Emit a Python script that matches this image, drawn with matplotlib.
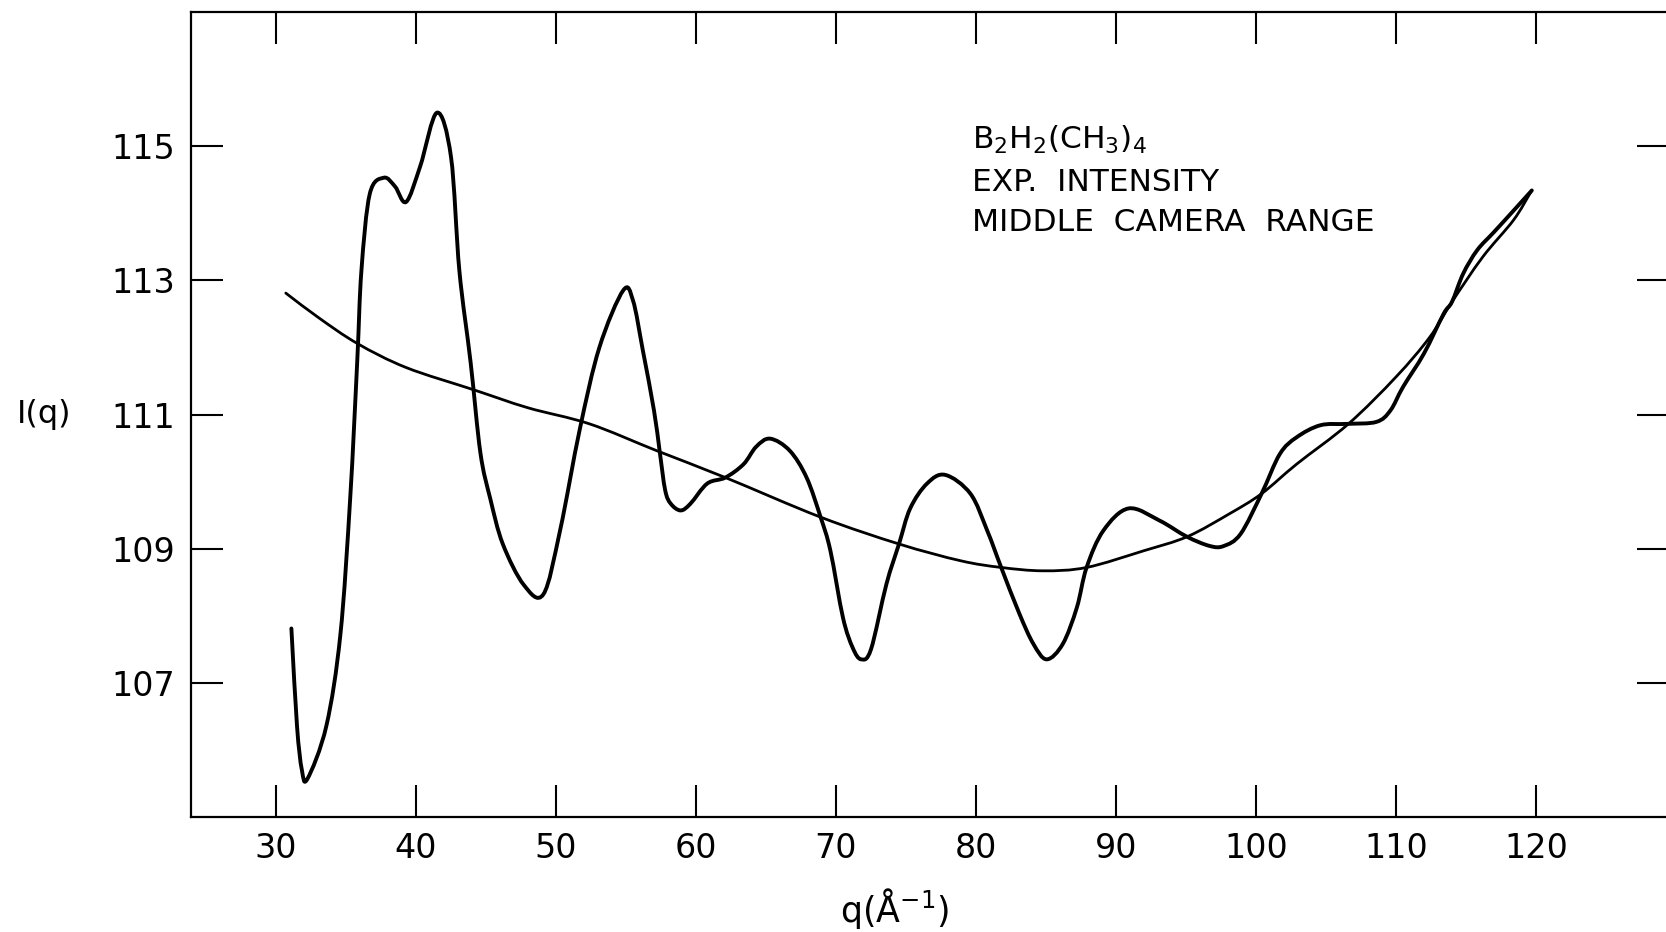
import numpy as np
import matplotlib
matplotlib.use("Agg")
from matplotlib import pyplot as plt
from matplotlib.path import Path
from matplotlib.patches import PathPatch

# Valeurs
# Courbe d'intensite experimentale (oscillante)
q_exp = [31.1, 31.5, 31.85, 32.25, 33.6, 34.6, 35.3, 35.8, 36.1, 36.7, 37.7, 38.5,
         39.3, 40.3, 41.5, 42.5, 43.1, 43.9, 44.6, 45.3, 46.2, 47.7, 49.1, 50.3,
         51.7, 53.1, 54.8, 55.5, 56.2, 57.0, 57.4, 57.8, 58.2, 58.9, 59.6, 60.8,
         62.1, 63.4, 64.3, 65.3, 66.7, 67.9, 68.9, 69.6, 70.5, 71.2, 71.8, 72.5,
         73.6, 74.5, 75.3, 76.5, 77.8, 79.6, 80.8, 81.8, 83.1, 84.1, 85.05, 86.2,
         87.2, 87.9, 89.1, 90.9, 93.1, 95.05, 96.7, 97.7, 98.9, 100.4, 101.7, 102.9,
         104.6, 106.5, 108.6, 109.6, 110.5, 112.0, 113.4, 114.0, 114.8, 115.8, 117.0,
         118.4, 119.7]
i_exp = [107.81, 106.36, 105.70, 105.57, 106.36, 107.72, 109.75, 111.78, 113.14, 114.29,
         114.53, 114.40, 114.17, 114.70, 115.50, 114.84, 113.14, 111.78, 110.43, 109.75,
         109.07, 108.46, 108.32, 109.28, 110.78, 112.00, 112.85, 112.70, 111.96, 111.06,
         110.46, 109.87, 109.67, 109.57, 109.67, 109.97, 110.06, 110.26, 110.52, 110.64,
         110.46, 110.06, 109.47, 108.97, 107.97, 107.52, 107.35, 107.50, 108.47, 109.07,
         109.60, 109.97, 110.10, 109.82, 109.27, 108.72, 108.03, 107.58, 107.35, 107.58,
         108.12, 108.72, 109.27, 109.60, 109.42, 109.18, 109.04, 109.04, 109.22, 109.82,
         110.41, 110.66, 110.84, 110.86, 110.89, 111.06, 111.41, 111.91, 112.50, 112.68,
         113.10, 113.45, 113.72, 114.04, 114.34]

# Fond lisse
q_bg = [30.7, 33.0, 35.8, 39.3, 44.1, 48.0, 52.4, 57.2, 62.1, 68.9, 74.5, 78.9,
        81.8, 84.8, 87.9, 92.0, 95.1, 98.1, 100.4, 102.9, 106.6, 110.0, 112.4, 114.0,
        116.2, 118.4, 119.7]
i_bg = [112.81, 112.45, 112.06, 111.70, 111.37, 111.10, 110.86, 110.46, 110.06, 109.47,
        109.07, 108.82, 108.72, 108.67, 108.72, 108.97, 109.18, 109.52, 109.82, 110.26,
        110.86, 111.56, 112.15, 112.68, 113.35, 113.90, 114.34]

x_ticks = [30, 40, 50, 60, 70, 80, 90, 100, 110, 120]
y_ticks = [107, 109, 111, 113, 115]
notes = [r"B$_2$H$_2$(CH$_3$)$_4$", "EXP.  INTENSITY", "MIDDLE  CAMERA  RANGE"]


def courbe(xs, ys):
    # trace lisse qui passe par les points lus (Catmull-Rom -> Bezier)
    p = np.column_stack([xs, ys])
    p = np.vstack([2 * p[0] - p[1], p, 2 * p[-1] - p[-2]])
    verts = [p[1]]
    codes = [Path.MOVETO]
    for i in range(1, len(p) - 2):
        c1 = p[i] + (p[i + 1] - p[i - 1]) / 6
        c2 = p[i + 1] - (p[i + 2] - p[i]) / 6
        verts += [c1, c2, p[i + 1]]
        codes += [Path.CURVE4] * 3
    return Path(verts, codes)


plt.rcParams["font.family"] = ["DejaVu Sans"]
plt.rcParams["mathtext.fontset"] = "dejavusans"

fig = plt.figure(figsize=(16.66, 9.32), dpi=100)
# l'axe droit sort de l'image, comme sur l'original
ax = fig.add_axes([0.1144, 0.1234, 0.8874, 0.8637])

ax.add_patch(PathPatch(courbe(q_bg, i_bg), facecolor="none", edgecolor="black",
                       lw=2.0, capstyle="round", joinstyle="round"))
ax.add_patch(PathPatch(courbe(q_exp, i_exp), facecolor="none", edgecolor="black",
                       lw=2.8, capstyle="round", joinstyle="round"))

ax.set_xlim(23.9, 129.5)
ax.set_ylim(105, 117)
ax.set_xticks(x_ticks)
ax.set_yticks(y_ticks)
ax.tick_params(direction="in", length=23, width=1.5, top=True, right=True,
               labelsize=24, pad=11)
for s in ax.spines.values():
    s.set_linewidth(1.6)

ax.set_xlabel(r"q($\mathrm{\AA}^{-1}$)", fontsize=25)
ax.xaxis.set_label_coords(0.476, -0.114)
ax.xaxis.label.set_va("center")
ax.set_ylabel("I(q)", fontsize=23, rotation=0, ha="center", va="center")
ax.yaxis.set_label_coords(-0.099, 0.5)

# Legende en texte
for k, txt in enumerate(notes):
    ax.text(0.5285, [0.841, 0.7876, 0.738][k], txt, transform=ax.transAxes,
            fontsize=22.5, ha="left", va="center")

fig.savefig("out.png", dpi=100)
